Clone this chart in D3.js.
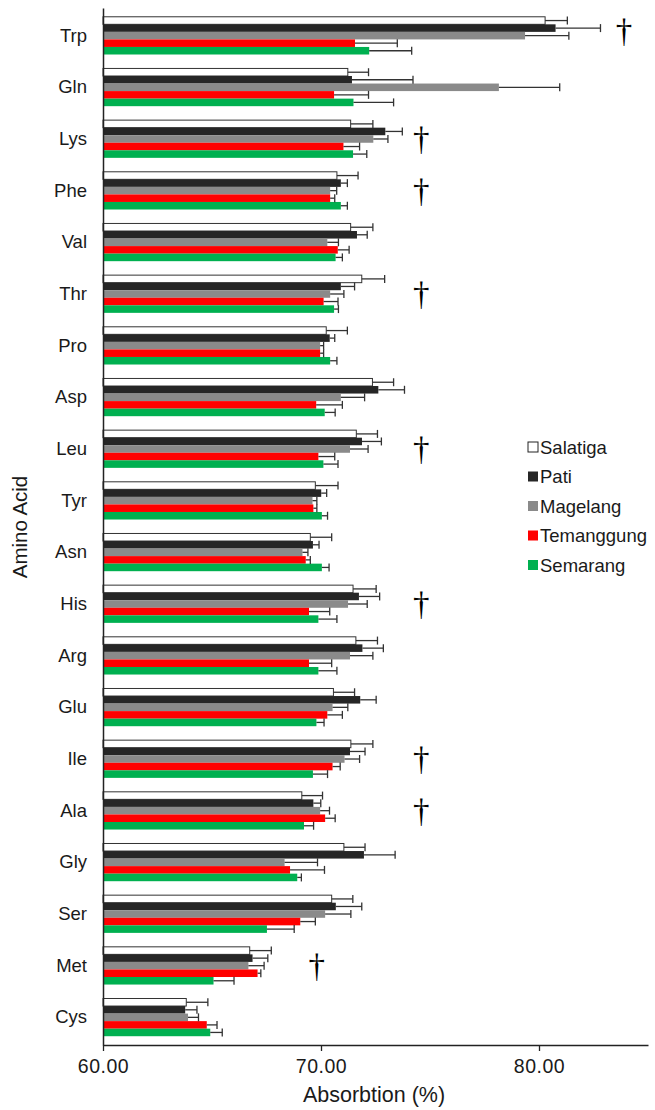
<!DOCTYPE html>
<html>
<head>
<meta charset="utf-8">
<script src="https://cdn.jsdelivr.net/npm/d3@7"></script>
<style>
  body { margin: 0; background: #fff; }
  text { font-family: "Liberation Sans", Arial, sans-serif; fill: #1a1a1a; }
</style>
</head>
<body>
<div class="chart"></div>
<script>
// amino acids, top to bottom
const aminoAcids = ["Trp", "Gln", "Lys", "Phe", "Val", "Thr", "Pro", "Asp", "Leu", "Tyr",
  "Asn", "His", "Arg", "Glu", "Ile", "Ala", "Gly", "Ser", "Met", "Cys"];
const regions = ["Salatiga", "Pati", "Magelang", "Temanggung", "Semarang"];

// mean absorption (%) per region
const salatiga = [80.28, 71.23, 71.36, 70.73, 71.36, 71.87, 70.24, 72.36, 71.62, 69.74,
  69.51, 71.47, 71.60, 70.57, 71.37, 69.12, 71.05, 70.49, 66.73, 63.82];
const pati = [80.76, 71.42, 72.95, 70.91, 71.65, 70.91, 70.40, 72.63, 71.88, 70.01,
  69.63, 71.74, 71.90, 71.80, 71.33, 69.65, 71.97, 70.68, 66.86, 63.77];
const magelang = [79.36, 78.16, 72.40, 70.42, 70.29, 70.42, 69.96, 70.91, 71.33, 69.61,
  69.15, 71.24, 71.33, 70.53, 71.08, 69.96, 68.33, 70.19, 66.67, 63.90];
const temanggung = [71.56, 70.60, 71.03, 70.42, 70.77, 70.12, 69.96, 69.78, 69.88, 69.65,
  69.30, 69.45, 69.45, 70.29, 70.53, 70.19, 68.58, 69.05, 67.09, 64.76];
const semarang = [72.21, 71.49, 71.47, 70.91, 70.67, 70.60, 70.42, 70.17, 70.11, 70.04,
  70.04, 69.88, 69.88, 69.79, 69.63, 69.22, 68.91, 67.52, 65.07, 64.92];

// standard deviations
const salatigaSd = [1.02, 0.95, 1.02, 0.97, 1.02, 1.05, 0.97, 0.97, 0.97, 1.04,
  0.98, 1.06, 0.99, 0.97, 1.01, 0.95, 0.97, 0.97, 0.99, 0.99];
const patiSd = [2.06, 2.80, 0.78, 0.30, 0.47, 0.63, 0.23, 1.20, 0.89, 0.25,
  0.28, 0.95, 0.96, 0.73, 0.69, 0.34, 1.43, 1.19, 0.70, 0.54];
const magelangSd = [2.01, 2.79, 0.67, 0.30, 0.51, 0.63, 0.16, 1.09, 0.83, 0.20,
  0.25, 0.88, 1.05, 0.70, 0.69, 0.43, 1.51, 1.18, 0.72, 0.48];
const temanggungSd = [1.94, 1.58, 0.74, 0.21, 0.52, 0.66, 0.16, 1.20, 0.75, 0.16,
  0.21, 0.95, 1.04, 0.69, 0.35, 0.46, 1.58, 0.69, 0.15, 0.47];
const semarangSd = [1.95, 1.84, 0.63, 0.30, 0.31, 0.20, 0.31, 0.48, 0.67, 0.26,
  0.33, 0.85, 0.85, 0.35, 0.67, 0.44, 0.19, 1.25, 0.94, 0.55];

// significance marks
const daggerAcids = ["Trp", "Lys", "Phe", "Thr", "Leu", "His", "Ile", "Ala", "Met"];
const daggerAt = [83.9, 74.6, 74.6, 74.6, 74.6, 74.6, 74.6, 74.6, 69.8];

const xTicks = [60, 70, 80];

const means = [salatiga, pati, magelang, temanggung, semarang];
const sds = [salatigaSd, patiSd, magelangSd, temanggungSd, semarangSd];
const colors = ["#ffffff", "#262626", "#8a8a8a", "#ff0000", "#00b050"];

const width = 655;
const height = 1110;
const margin = { top: 8, right: 7, bottom: 65, left: 103 };

const rows = [];
aminoAcids.forEach((aa, i) => {
  regions.forEach((r, j) => {
    rows.push({ aa, region: r, mean: means[j][i], sd: sds[j][i] });
  });
});

const xScale = d3.scaleLinear()
  .domain([60, 85])
  .range([margin.left, width - margin.right]);

const yScale = d3.scaleBand()
  .domain(aminoAcids)
  .range([margin.top, height - margin.bottom])
  .paddingInner(0.27)
  .paddingOuter(0.17);

const ySub = d3.scaleBand()
  .domain(regions)
  .range([0, yScale.bandwidth()]);

const colorScale = d3.scaleOrdinal().domain(regions).range(colors);

const svg = d3.select(".chart")
  .append("svg")
  .attr("width", width)
  .attr("height", height);

// bars
svg.append("g")
  .selectAll("rect")
  .data(rows)
  .join("rect")
  .attr("x", xScale(60))
  .attr("y", (d) => yScale(d.aa) + ySub(d.region))
  .attr("width", (d) => xScale(d.mean) - xScale(60))
  .attr("height", ySub.bandwidth())
  .attr("fill", (d) => colorScale(d.region))
  .attr("stroke", (d) => (d.region === "Salatiga" ? "#333" : "none"))
  .attr("stroke-width", 1);

// error bars (upper side only)
const err = svg.append("g")
  .attr("stroke", "#333")
  .attr("stroke-width", 1.3);

err.selectAll("line.stem")
  .data(rows)
  .join("line")
  .attr("class", "stem")
  .attr("x1", (d) => xScale(d.mean))
  .attr("x2", (d) => xScale(d.mean + d.sd))
  .attr("y1", (d) => yScale(d.aa) + ySub(d.region) + ySub.bandwidth() / 2)
  .attr("y2", (d) => yScale(d.aa) + ySub(d.region) + ySub.bandwidth() / 2);

err.selectAll("line.cap")
  .data(rows)
  .join("line")
  .attr("class", "cap")
  .attr("x1", (d) => xScale(d.mean + d.sd))
  .attr("x2", (d) => xScale(d.mean + d.sd))
  .attr("y1", (d) => yScale(d.aa) + ySub(d.region) + ySub.bandwidth() / 2 - 4)
  .attr("y2", (d) => yScale(d.aa) + ySub(d.region) + ySub.bandwidth() / 2 + 4);

// daggers
svg.append("g")
  .selectAll("text")
  .data(daggerAcids)
  .join("text")
  .attr("x", (d, i) => xScale(daggerAt[i]))
  .attr("y", (d) => yScale(d) + yScale.bandwidth() / 2 + (d === "Trp" ? 6 : 11))
  .attr("text-anchor", "middle")
  .style("font-family", "'Liberation Serif', serif")
  .style("font-size", "33px")
  .style("fill", "#000")
  .text("\u2020");

// x axis
const xAxis = svg.append("g")
  .attr("transform", `translate(0,${height - margin.bottom})`)
  .call(d3.axisBottom(xScale).tickValues(xTicks).tickFormat(d3.format(".2f"))
    .tickSize(6).tickSizeOuter(0).tickPadding(8));
xAxis.select(".domain").attr("stroke", "#222").attr("stroke-width", 1.5);
xAxis.selectAll(".tick line").attr("stroke", "#222").attr("stroke-width", 1.3);
xAxis.selectAll("text")
  .style("font-size", "19.5px")
  .style("letter-spacing", "0.5px")
  .style("fill", "#1a1a1a");

// y axis
const yAxis = svg.append("g")
  .attr("transform", `translate(${margin.left},0)`)
  .call(d3.axisLeft(yScale).tickSize(0).tickPadding(16));
yAxis.select(".domain").attr("stroke", "#222").attr("stroke-width", 1.5);
yAxis.selectAll("text")
  .style("font-size", "18.5px")
  .style("fill", "#1a1a1a");

// axis titles
svg.append("text")
  .attr("x", 374)
  .attr("y", 1102)
  .attr("text-anchor", "middle")
  .style("font-size", "21.5px")
  .text("Absorbtion (%)");

svg.append("text")
  .attr("transform", "translate(27,527) rotate(-90)")
  .attr("text-anchor", "middle")
  .style("font-size", "20.5px")
  .text("Amino Acid");

// legend
const legend = svg.append("g")
  .attr("transform", "translate(528,447)");

legend.selectAll("rect")
  .data(regions)
  .join("rect")
  .attr("x", 0)
  .attr("y", (d, i) => i * 29.5 - 5)
  .attr("width", 10)
  .attr("height", 10)
  .attr("fill", (d) => colorScale(d))
  .attr("stroke", (d) => (d === "Salatiga" ? "#222" : "none"));

legend.selectAll("text")
  .data(regions)
  .join("text")
  .attr("x", 12)
  .attr("y", (d, i) => i * 29.5 + 6.5)
  .style("font-size", "18.5px")
  .text((d) => d);
</script>
</body>
</html>
